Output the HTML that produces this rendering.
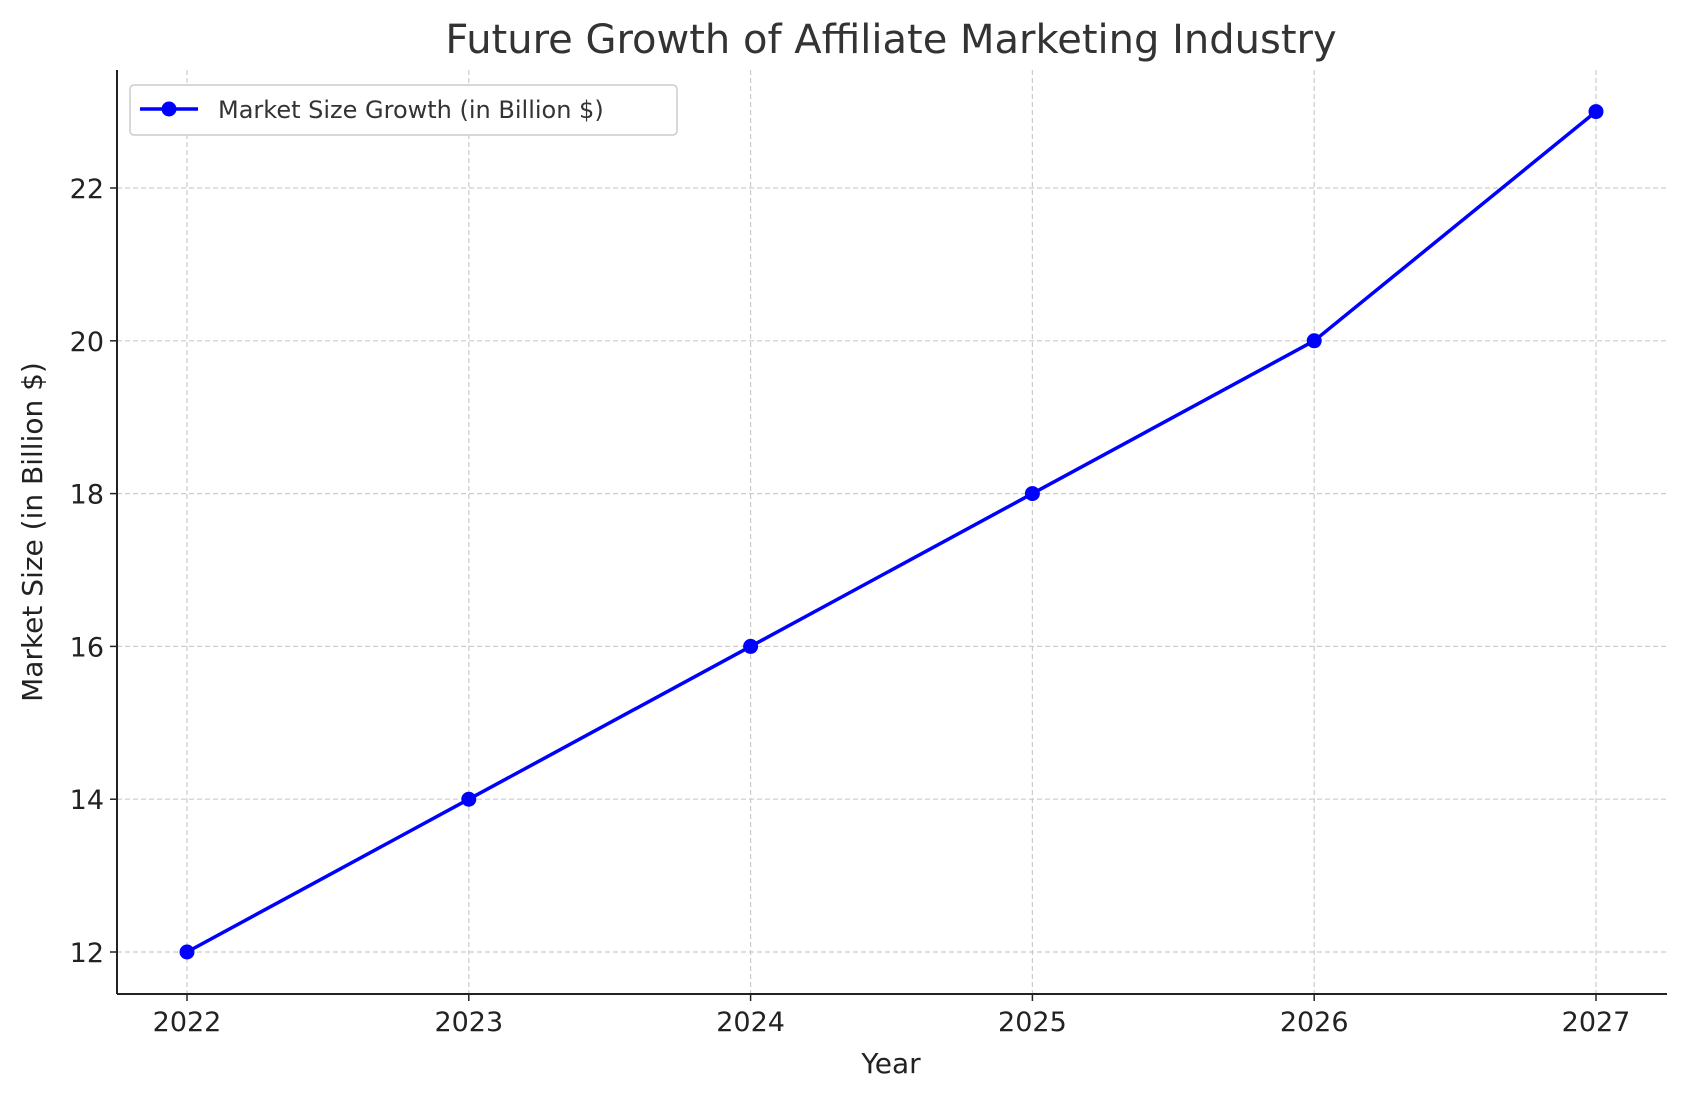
<!DOCTYPE html>
<html><head><meta charset="utf-8"><style>
body{margin:0;background:#fff}
svg{display:block;font-family:"DejaVu Sans","Liberation Sans",sans-serif}
</style></head><body>
<svg width="1686" height="1101" xmlns="http://www.w3.org/2000/svg">
<g id="grid"></g>
<g id="marks"></g>
<g id="axes"></g>
<text x="891" y="53" text-anchor="middle" font-size="40" fill="#333">Future Growth of Affiliate Marketing Industry</text>
<text x="891" y="1073" text-anchor="middle" font-size="28" fill="#222">Year</text>
<text transform="translate(42,532) rotate(-90)" text-anchor="middle" font-size="28" fill="#222">Market Size (in Billion $)</text>
<g>
<rect x="130" y="85" width="547" height="50" rx="4" fill="#fff" stroke="#ccc" stroke-width="1.5"/>
<line x1="140" y1="109" x2="198" y2="109" stroke="#0000ff" stroke-width="3.5"/>
<circle cx="169" cy="109" r="7.5" fill="#0000ff"/>
<text x="218" y="118" font-size="24" fill="#333">Market Size Growth (in Billion $)</text>
</g>
</svg>
<script>
const categories=["2022","2023","2024","2025","2026","2027"];
const values=[12,14,16,18,20,23];
const yTicks=[12,14,16,18,20,22];
const L=117,R=1667,T=70,B=994;
const x=i=>187+i*(1596-187)/(categories.length-1);
const y=v=>952-(v-12)*(952-188)/10;
const NS="http://www.w3.org/2000/svg";
function mk(p,t,a){const e=document.createElementNS(NS,t);for(const k in a)e.setAttribute(k,a[k]);p.appendChild(e);return e;}
const grid=document.getElementById('grid'),marks=document.getElementById('marks'),axes=document.getElementById('axes');
categories.forEach((c,i)=>{
 const g=mk(grid,'line',{x1:x(i),x2:x(i),y1:T,y2:B,stroke:'#ccc','stroke-width':1.2,'stroke-dasharray':'5,3'});
 
 
 const tk=mk(axes,'line',{x1:x(i),x2:x(i),y1:B,y2:B+7,stroke:'#222','stroke-width':1.5});
 
 
 const t=mk(axes,'text',{x:x(i),y:B+37,'text-anchor':'middle','font-size':27,fill:'#222'});
 t.textContent=c;
 
 
});
yTicks.forEach(v=>{
 const g=mk(grid,'line',{x1:L,x2:R,y1:y(v),y2:y(v),stroke:'#ccc','stroke-width':1.2,'stroke-dasharray':'5,3'});
 
 
 const tk=mk(axes,'line',{x1:L-7,x2:L,y1:y(v),y2:y(v),stroke:'#222','stroke-width':1.5});
 
 
 const t=mk(axes,'text',{x:L-13,y:y(v)+10,'text-anchor':'end','font-size':27,fill:'#222'});
 t.textContent=v;
 
 
});
const la=mk(axes,'line',{x1:L,x2:L,y1:T,y2:B,stroke:'#222','stroke-width':2});


const ba=mk(axes,'line',{x1:L,x2:R,y1:B,y2:B,stroke:'#222','stroke-width':2});


const pl=mk(marks,'polyline',{points:values.map((v,i)=>x(i)+','+y(v)).join(' '),fill:'none',stroke:'#0000ff','stroke-width':3.5});


values.forEach((v,i)=>{
 const c=mk(marks,'circle',{cx:x(i),cy:y(v),r:7.5,fill:'#0000ff'});
 
 
});
</script>
</body></html>
